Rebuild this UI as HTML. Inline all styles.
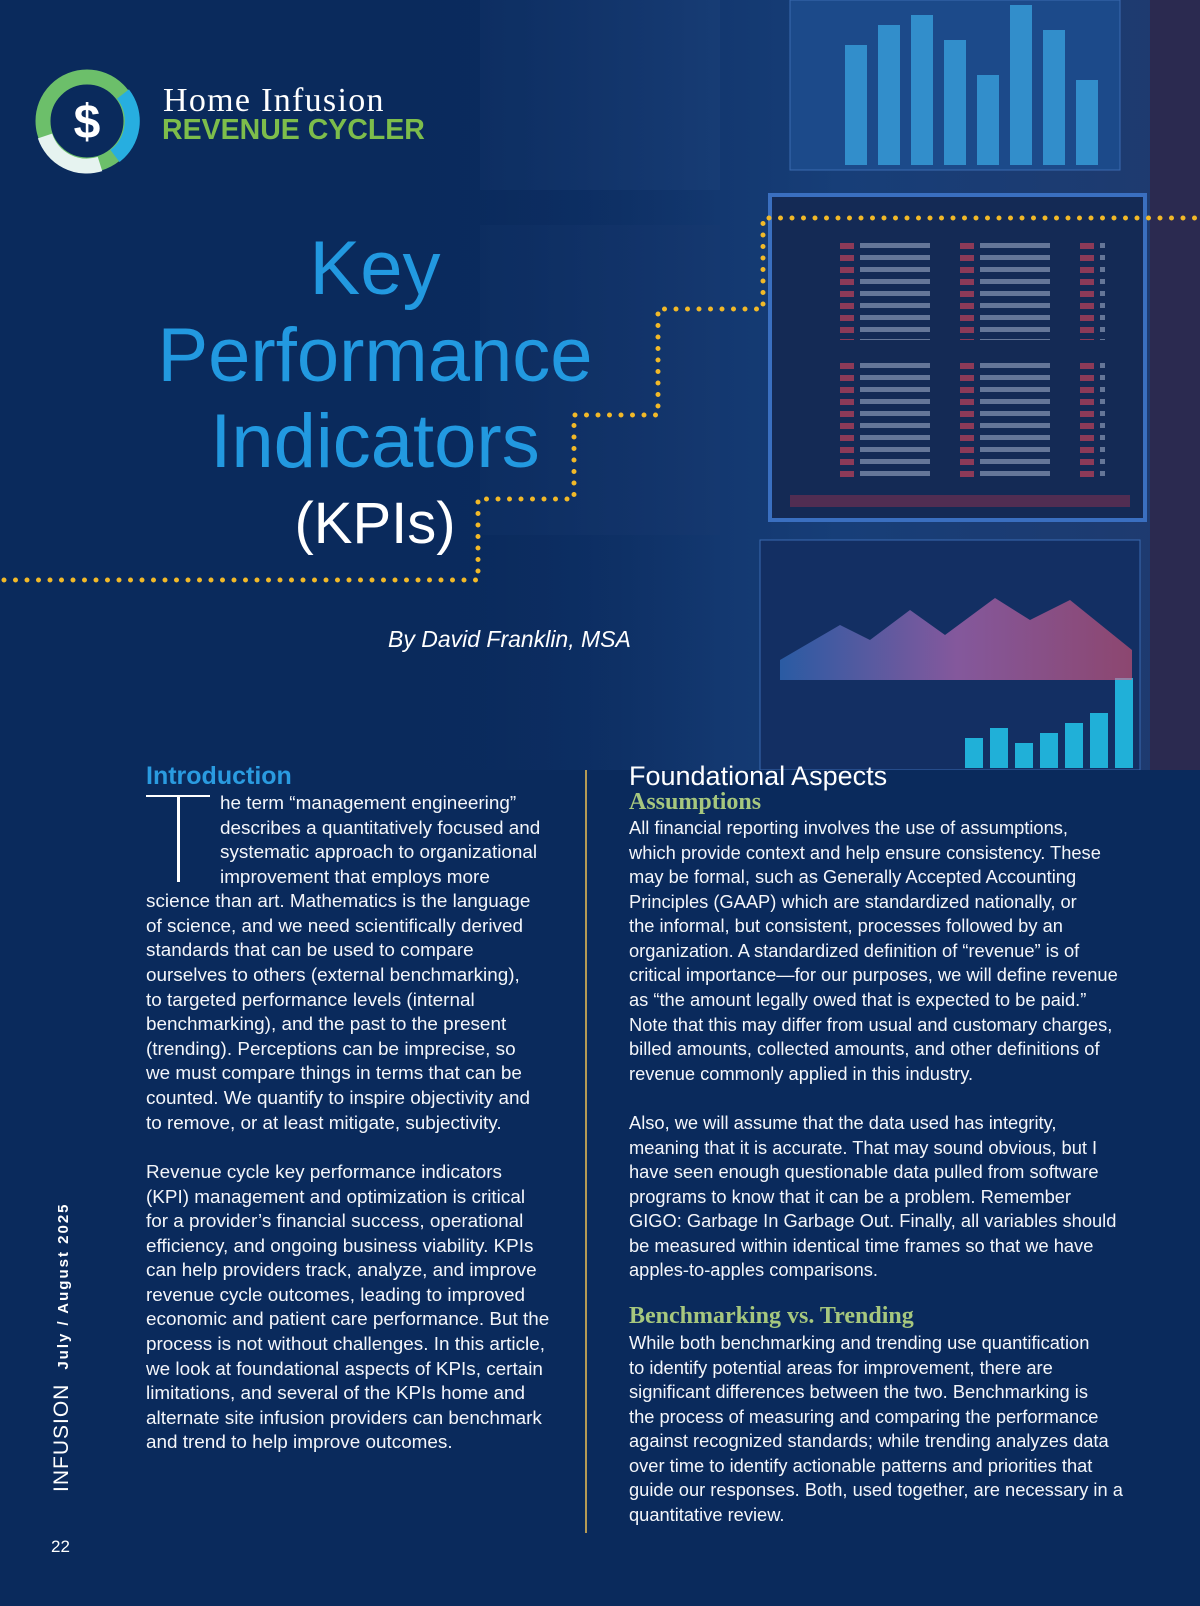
<!DOCTYPE html>
<html><head><meta charset="utf-8">
<style>
*{margin:0;padding:0;box-sizing:border-box}
body{width:1200px;height:1606px;background:#0a2a5c;overflow:hidden;position:relative;font-family:"Liberation Sans",sans-serif;color:#fff}
.abs{position:absolute}
.txt{line-height:24.58px;color:#f4f6fa;white-space:nowrap}
.lt{font-size:18.9px}
.rt{font-size:18.3px}
</style></head><body>
<svg class="abs" style="left:0;top:0" width="1200" height="770" viewBox="0 0 1200 770">
<defs>
<linearGradient id="bg" x1="0" y1="0" x2="1" y2="0"><stop offset="0" stop-color="#0a2a5c"/><stop offset="0.4" stop-color="#0b2c60"/><stop offset="0.7" stop-color="#173e78"/><stop offset="1" stop-color="#1f3a6e"/></linearGradient>
<linearGradient id="fade" x1="0" y1="0" x2="1" y2="0"><stop offset="0" stop-color="#0a2a5c" stop-opacity="1"/><stop offset="0.35" stop-color="#0a2a5c" stop-opacity="0.85"/><stop offset="0.6" stop-color="#0a2a5c" stop-opacity="0"/></linearGradient>
<linearGradient id="mnt" x1="0" y1="0" x2="1" y2="0"><stop offset="0" stop-color="#3d7fd8"/><stop offset="0.5" stop-color="#e07acb"/><stop offset="1" stop-color="#f05a7a"/></linearGradient>
<pattern id="rows" width="120" height="12" patternUnits="userSpaceOnUse"><rect x="0" y="3" width="14" height="6" fill="#c0405a" opacity="0.7"/><rect x="20" y="3" width="70" height="5" fill="#c8d4ea" opacity="0.45"/></pattern>
</defs>
<rect width="1200" height="770" fill="url(#bg)"/>
<rect x="480" y="0" width="240" height="190" fill="#1a3f78" opacity="0.6"/>
<rect x="790" y="0" width="330" height="170" fill="#1c4a8a" stroke="#3a6ab0"/>
<rect x="770" y="195" width="375" height="325" fill="#142a55" stroke="#3a6fc0" stroke-width="4"/>
<rect x="815" y="240" width="290" height="100" fill="url(#rows)"/>
<rect x="815" y="360" width="290" height="120" fill="url(#rows)"/>
<rect x="790" y="495" width="340" height="12" fill="#7a3050" opacity="0.6"/>
<rect x="760" y="540" width="380" height="230" fill="#132f63" stroke="#3a6ab0"/>
<rect x="480" y="225" width="240" height="310" fill="#17396f" opacity="0.6"/>
<rect x="1150" y="0" width="50" height="770" fill="#2b2a50"/>
<g id="bars"></g>
<polygon points="780,660 840,625 870,640 910,610 945,635 995,598 1030,620 1070,600 1132,650 1132,680 780,680" fill="url(#mnt)" opacity="0.55"/>
<rect width="1200" height="770" fill="url(#fade)"/>
</svg>
<div class="abs" style="left:0;top:0">
<svg width="1200" height="600" style="position:absolute;left:0;top:0">
<polyline points="4,580 478,580 478,499 574,499 574,415 658,415 658,309 763,309 763,218 1200,218" fill="none" stroke="#f2b928" stroke-width="5" stroke-dasharray="0 11.5" stroke-linecap="round"/>
</svg></div>
<svg class="abs" style="left:30px;top:64px" width="115" height="115" viewBox="0 0 115 115">
<circle cx="57" cy="57" r="44" fill="none" stroke="#6cbf6a" stroke-width="15"/>
<path d="M93 30 A44 44 0 0 1 85 92" fill="none" stroke="#27aee0" stroke-width="15"/>
<path d="M70 100 A44 44 0 0 1 15 72" fill="none" stroke="#e6f3f0" stroke-width="15"/>
<circle cx="57" cy="57" r="34" fill="#0a2a5c"/>
<text x="57" y="74" text-anchor="middle" font-family="Liberation Sans" font-weight="bold" font-size="48" fill="#fff">$</text>
</svg>
<div class="abs" style="left:163px;top:82px;font-family:'Liberation Serif',serif;font-size:34px;letter-spacing:1.3px;color:#fff">Home Infusion</div>
<div class="abs" style="left:162px;top:114px;font-size:28.5px;font-weight:bold;color:#7dbd4b">REVENUE CYCLER</div>
<div class="abs" style="left:150px;width:450px;top:226px;text-align:center;color:#2299e0;font-size:76px;line-height:86.5px">Key<br>Performance<br>Indicators</div>
<div class="abs" style="left:150px;width:450px;top:490px;text-align:center;color:#fff;font-size:58px">(KPIs)</div>
<div class="abs" style="left:388px;top:626px;font-size:23px;font-style:italic;color:#fff">By David Franklin, MSA</div>

<div class="abs" style="left:146px;top:762px;font-size:25px;font-weight:bold;color:#2a9be0">Introduction</div>
<div class="abs" style="left:146px;top:786px;width:66px;height:100px"><div style="position:absolute;left:0;top:9px;width:64px;height:2px;background:#fff"></div><div style="position:absolute;left:31px;top:9px;width:3px;height:87px;background:#fff"></div></div>
<div class="abs txt lt" style="left:146px;top:792px"><span style="padding-left:74px">he term “management engineering”</span><br><span style="padding-left:74px">describes a quantitatively focused and</span><br><span style="padding-left:74px">systematic approach to organizational</span><br><span style="padding-left:74px">improvement that employs more</span><br>science than art. Mathematics is the language<br>of science, and we need scientifically derived<br>standards that can be used to compare<br>ourselves to others (external benchmarking),<br>to targeted performance levels (internal<br>benchmarking), and the past to the present<br>(trending). Perceptions can be imprecise, so<br>we must compare things in terms that can be<br>counted. We quantify to inspire objectivity and<br>to remove, or at least mitigate, subjectivity.</div>
<div class="abs txt lt" style="left:146px;top:1161px">Revenue cycle key performance indicators<br>(KPI) management and optimization is critical<br>for a provider’s financial success, operational<br>efficiency, and ongoing business viability. KPIs<br>can help providers track, analyze, and improve<br>revenue cycle outcomes, leading to improved<br>economic and patient care performance. But the<br>process is not without challenges. In this article,<br>we look at foundational aspects of KPIs, certain<br>limitations, and several of the KPIs home and<br>alternate site infusion providers can benchmark<br>and trend to help improve outcomes.</div>
<div class="abs" style="left:585px;top:770px;width:1.5px;height:763px;background:#b59a55"></div>
<div class="abs" style="left:629px;top:761px;font-size:27px;color:#fff">Foundational Aspects</div>
<div class="abs" style="left:629px;top:789px;font-family:'Liberation Serif',serif;font-size:24px;font-weight:bold;color:#a6c77e">Assumptions</div>
<div class="abs txt rt" style="left:629px;top:816px">All financial reporting involves the use of assumptions,<br>which provide context and help ensure consistency. These<br>may be formal, such as Generally Accepted Accounting<br>Principles (GAAP) which are standardized nationally, or<br>the informal, but consistent, processes followed by an<br>organization. A standardized definition of “revenue” is of<br>critical importance—for our purposes, we will define revenue<br>as “the amount legally owed that is expected to be paid.”<br>Note that this may differ from usual and customary charges,<br>billed amounts, collected amounts, and other definitions of<br>revenue commonly applied in this industry.</div>
<div class="abs txt rt" style="left:629px;top:1111px">Also, we will assume that the data used has integrity,<br>meaning that it is accurate. That may sound obvious, but I<br>have seen enough questionable data pulled from software<br>programs to know that it can be a problem. Remember<br>GIGO: Garbage In Garbage Out. Finally, all variables should<br>be measured within identical time frames so that we have<br>apples-to-apples comparisons.</div>
<div class="abs" style="left:629px;top:1303px;font-family:'Liberation Serif',serif;font-size:24px;font-weight:bold;color:#a6c77e">Benchmarking vs. Trending</div>
<div class="abs txt rt" style="left:629px;top:1331px">While both benchmarking and trending use quantification<br>to identify potential areas for improvement, there are<br>significant differences between the two. Benchmarking is<br>the process of measuring and comparing the performance<br>against recognized standards; while trending analyzes data<br>over time to identify actionable patterns and priorities that<br>guide our responses. Both, used together, are necessary in a<br>quantitative review.</div>
<div class="abs" style="left:50px;top:1492px;transform:rotate(-90deg);transform-origin:0 0;white-space:nowrap;color:#fff"><span style="font-size:21px;letter-spacing:1px">INFUSION</span><span style="font-size:15px;font-weight:bold;letter-spacing:2px;margin-left:14px">July / August 2025</span></div>
<div class="abs" style="left:51px;top:1537px;font-size:17px;color:#fff">22</div>
<script>
const barHeights=[120,140,150,125,90,160,135,85];
const barHeights2=[30,40,25,35,45,55,90];
const g=document.getElementById('bars');
const ns='http://www.w3.org/2000/svg';
barHeights.forEach((h,i)=>{const r=document.createElementNS(ns,'rect');


r.setAttribute('x',845+i*33);r.setAttribute('y',165-h);r.setAttribute('width',22);r.setAttribute('height',h);r.setAttribute('fill','#3aa6e0');r.setAttribute('opacity','0.75');g.appendChild(r);});
barHeights2.forEach((h,i)=>{const r=document.createElementNS(ns,'rect');


r.setAttribute('x',965+i*25);r.setAttribute('y',768-h);r.setAttribute('width',18);r.setAttribute('height',h);r.setAttribute('fill','#20b0d8');g.appendChild(r);});
</script>
</body></html>
